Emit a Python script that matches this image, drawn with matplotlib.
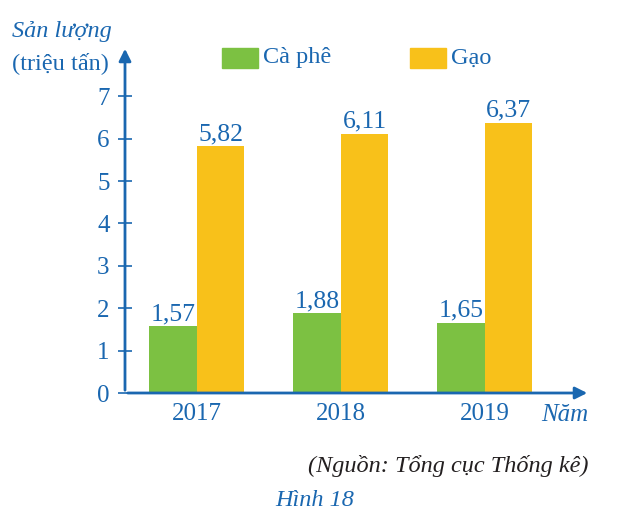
import matplotlib.pyplot as plt
import numpy as np
from matplotlib.patches import Rectangle

years = ['2017', '2018', '2019']
ca_phe = [1.57, 1.88, 1.65]
gao = [5.82, 6.11, 6.37]
yticks = [0, 1, 2, 3, 4, 5, 6, 7]

blue = '#1a67b0'
green = '#7cc142'
yellow = '#f8c11a'

plt.rcParams['font.family'] = ['Liberation Serif', 'DejaVu Serif']

fig = plt.figure(figsize=(6.18, 5.19), dpi=100)
W, H = 618, 519
ax = fig.add_axes([125 / W, 1 - 393 / H, (590 - 125) / W, (393 - 46) / H])

x = np.arange(len(years))
w = 0.33
ax.bar(x - w / 2, ca_phe, w, color=green)
ax.bar(x + w / 2, gao, w, color=yellow)
for i in range(len(years)):
    ax.text(x[i] - w / 2, ca_phe[i] + 0.03, f'{ca_phe[i]:.2f}'.replace('.', ','),
            ha='center', va='bottom', color=blue, fontsize=18.5)
    ax.text(x[i] + w / 2, gao[i] + 0.03, f'{gao[i]:.2f}'.replace('.', ','),
            ha='center', va='bottom', color=blue, fontsize=18.5)

ax.set_xlim(-0.5, 2.73)
ax.set_ylim(0, (393 - 46) / 42.4)
for s in ax.spines.values():
    s.set_visible(False)
ax.set_yticks(yticks)
ax.set_yticklabels([str(t) for t in yticks], fontsize=18, color=blue)
ax.tick_params(axis='y', direction='inout', length=10, width=1.2, color=blue, pad=6)
ax.set_xticks(x)
ax.set_xticklabels(years, fontsize=18, color=blue)
ax.tick_params(axis='x', length=0, pad=7)

# axes with arrows
ax.annotate('', xy=(1.0, 0), xytext=(0, 0), xycoords='axes fraction',
            arrowprops=dict(arrowstyle='-|>', color=blue, lw=2, mutation_scale=18),
            annotation_clip=False)
ax.annotate('', xy=(0, 1.0), xytext=(0, 0), xycoords='axes fraction',
            arrowprops=dict(arrowstyle='-|>', color=blue, lw=2, mutation_scale=18),
            annotation_clip=False)

fig.text(12 / W, 1 - 31 / H, 'Sản lượng', fontsize=17.5, style='italic', color=blue,
         ha='left', va='center')
fig.text(12 / W, 1 - 63 / H, '(triệu tấn)', fontsize=17.5, color=blue, ha='left', va='center')
fig.text(588 / W, 1 - 415 / H, 'Năm', fontsize=18, style='italic', color=blue,
         ha='right', va='center')

# legend
fig.patches.append(Rectangle((222 / W, 1 - 68 / H), 36 / W, 20 / H, color=green,
                             transform=fig.transFigure))
fig.text(263 / W, 1 - 58 / H, 'Cà phê', fontsize=17.5, color=blue, ha='left', va='center')
fig.patches.append(Rectangle((410 / W, 1 - 68 / H), 36 / W, 20 / H, color=yellow,
                             transform=fig.transFigure))
fig.text(451 / W, 1 - 58 / H, 'Gạo', fontsize=17.5, color=blue, ha='left', va='center')

fig.text(588 / W, 1 - 466 / H, '(Nguồn: Tổng cục Thống kê)', fontsize=17.5, style='italic',
         color='#231f20', ha='right', va='center')
fig.text(315 / W, 1 - 500 / H, 'Hình 18', fontsize=17.5, style='italic', color=blue,
         ha='center', va='center')

fig.savefig('out.png', dpi=100)
